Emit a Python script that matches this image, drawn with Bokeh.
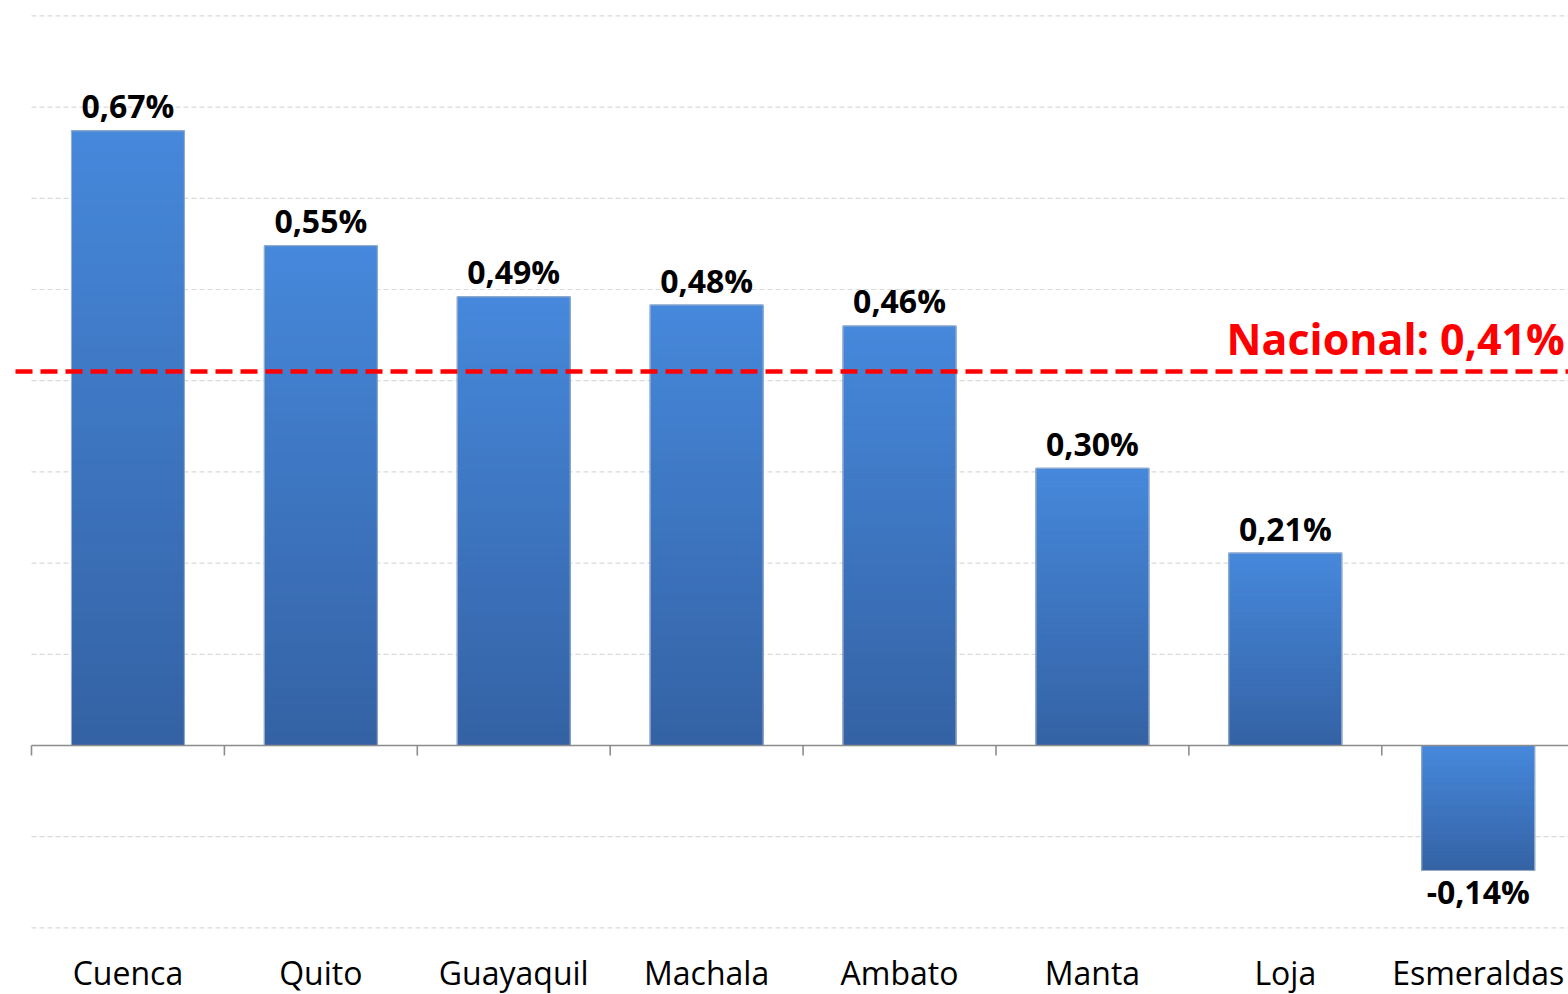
from bokeh.plotting import figure
from bokeh.models import Range1d
from bokeh.core.properties import value
from bokeh.embed import file_html
from bokeh.resources import INLINE

# ---- data ----
cities = ["Cuenca", "Quito", "Guayaquil", "Machala", "Ambato", "Manta", "Loja", "Esmeraldas"]
values = [0.674, 0.548, 0.492, 0.483, 0.460, 0.304, 0.211, -0.137]
nacional = 0.41
nacional_label = "Nacional: 0,41%"
grid_ticks = [-0.2, -0.1, 0.1, 0.2, 0.3, 0.4, 0.5, 0.6, 0.7, 0.8]

# ---- style ----
LIGHT = (0x46, 0x88, 0xDB)
DARK = (0x34, 0x62, 0xA4)
BAR_W = 0.585
FONT = value("Open Sans")
PY = 1.0 / 912.0   # data units per screen pixel (vertical)

p = figure(width=1568, height=994, output_backend="svg", toolbar_location=None,
           x_axis_location=None, y_axis_location=None,
           x_range=Range1d(-0.1607, 7.968), y_range=Range1d(-0.2730, 0.8169),
           min_border=0, min_border_left=0, min_border_right=0,
           min_border_top=0, min_border_bottom=0)
p.outline_line_color = None
p.xgrid.visible = False
p.ygrid.visible = False
p.background_fill_color = "white"
p.border_fill_color = "white"

n = len(cities)
centers = [i + 0.5 for i in range(n)]

# gridlines
p.segment(x0=[0] * len(grid_ticks), x1=[9] * len(grid_ticks), y0=grid_ticks, y1=grid_ticks,
          line_color="#D9D9D9", line_width=1.2, line_dash="5 3")

# gradient bars
N = 60
xs, tops, bots, cols = [], [], [], []
for c, v in zip(centers, values):
    lo, hi = min(0, v), max(0, v)
    h = (hi - lo) / N
    for j in range(N):
        t = (j + 0.5) / N
        col = tuple(int(round(DARK[k] + (LIGHT[k] - DARK[k]) * t)) for k in range(3))
        xs.append(c)
        bots.append(lo + j * h)
        tops.append(lo + (j + 1) * h)
        cols.append("#%02x%02x%02x" % col)
p.vbar(x=xs, top=tops, bottom=bots, width=BAR_W, fill_color=cols, line_color=cols,
       line_width=1.2)
# bar outline
p.vbar(x=centers, top=[max(0, v) for v in values], bottom=[min(0, v) for v in values],
       width=BAR_W, fill_color=None, line_color="#9FAFC6", line_width=1)

# axis line at zero and category ticks
p.segment(x0=[0], x1=[9], y0=[0], y1=[0], line_color="#8C8C8C", line_width=1.6)
tick_x = list(range(n + 1))
p.segment(x0=tick_x, x1=tick_x, y0=[0] * len(tick_x), y1=[-10 * PY] * len(tick_x),
          line_color="#8C8C8C", line_width=1.6)

# national dashed line
p.segment(x0=[-16 / 192.9], x1=[9], y0=[nacional], y1=[nacional],
          line_color="#FF0000", line_width=4.5, line_dash="17 8")
p.text(x=[6.195], y=[nacional + 33 * PY], text=[nacional_label], text_font=FONT,
       text_font_style="bold", text_font_size="43px", text_color="#FF0000",
       text_align="left", text_baseline="middle")

# value labels
labels = [("%.2f" % v).replace(".", ",") + "%" for v in values]
pos = [i for i, v in enumerate(values) if v >= 0]
neg = [i for i, v in enumerate(values) if v < 0]
p.text(x=[centers[i] for i in pos], y=[values[i] + 25 * PY for i in pos],
       text=[labels[i] for i in pos],
       text_font=FONT, text_font_style="bold", text_font_size="32px", text_color="black",
       text_align="center", text_baseline="middle")
p.text(x=[centers[i] for i in neg], y=[values[i] - 21 * PY for i in neg],
       text=[labels[i] for i in neg],
       text_font=FONT, text_font_style="bold", text_font_size="32px", text_color="black",
       text_align="center", text_baseline="middle")

# category labels
p.text(x=centers, y=[-0.2533 + 4 * PY] * n, text=cities, text_font=FONT, text_font_size="32px",
       text_color="black", text_align="center", text_baseline="middle")

open("out.html", "w").write(file_html(p, INLINE))
